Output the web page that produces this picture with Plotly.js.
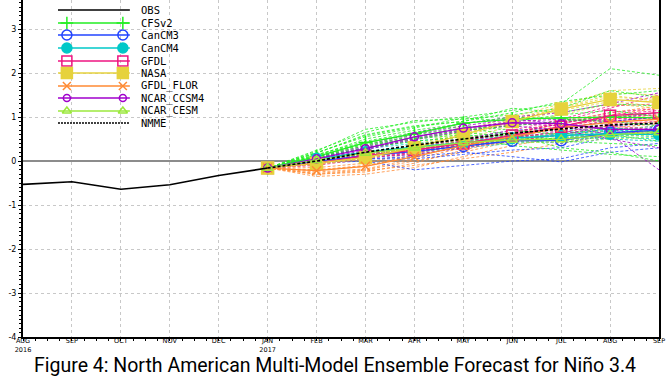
<!DOCTYPE html>
<html>
<head>
<meta charset="utf-8">
<script src="https://cdn.plot.ly/plotly-3.0.1.min.js"></script>
<style>html,body{margin:0;padding:0;background:#fff}#chart{width:671px;height:378px}</style>
</head>
<body>
<div id="chart"></div>
<script>
// ---- DATA ----
const monthKeys = ['2016-08','2016-09','2016-10','2016-11','2016-12','2017-01','2017-02','2017-03','2017-04','2017-05','2017-06','2017-07','2017-08','2017-09'];
const monthLabels = ['AUG<br>2016','SEP','OCT','NOV','DEC','JAN<br>2017','FEB','MAR','APR','MAY','JUN','JUL','AUG','SEP'];
const obsMonths = ['2016-08','2016-09','2016-10','2016-11','2016-12','2017-01'];
const obsValues = [-0.53, -0.47, -0.64, -0.54, -0.33, -0.16];
const fcstMonths = ['2017-01','2017-02','2017-03','2017-04','2017-05','2017-06','2017-07','2017-08','2017-09'];

const modelNames = ['CFSv2','CanCM3','CanCM4','GFDL','NASA','GFDL_FLOR','NCAR_CCSM4','NCAR_CESM'];

const meanCFSv2     = [-0.16, 0.10, 0.42, 0.62, 0.86, 0.95, 0.98, 1.00, 0.98];
const meanCanCM3    = [-0.16, 0.00, 0.12, 0.22, 0.34, 0.46, 0.47, 0.64, 0.70];
const meanCanCM4    = [-0.16, 0.05, 0.20, 0.32, 0.42, 0.52, 0.58, 0.62, 0.60];
const meanGFDL      = [-0.16,-0.05, 0.12, 0.25, 0.40, 0.58, 0.78, 1.03, 1.10];
const meanNASA      = [-0.16,-0.05, 0.08, 0.30, 0.60, 0.90, 1.18, 1.40, 1.33];
const meanGFDL_FLOR = [-0.16,-0.22,-0.12, 0.10, 0.35, 0.55, 0.76, 0.88, 0.95];
const meanNCAR_CCSM4= [-0.16, 0.05, 0.28, 0.55, 0.75, 0.87, 0.85, 0.72, 0.72];
const meanNCAR_CESM = [-0.16, 0.02, 0.18, 0.30, 0.42, 0.48, 0.49, 0.60, 0.65];
const meanNMME      = [-0.16, 0.00, 0.20, 0.36, 0.50, 0.63, 0.73, 0.82, 0.86];

const membersCFSv2 = [
  [-0.16, 0.22, 0.72, 0.88, 1.00, 1.15, 1.30, 2.10, 1.95],
  [-0.16, 0.25, 0.65, 0.92, 0.95, 1.05, 1.20, 1.60, 1.45],
  [-0.16, 0.18, 0.60, 0.80, 0.90, 1.20, 1.10, 1.30, 1.25],
  [-0.16, 0.20, 0.55, 0.75, 0.98, 0.90, 1.05, 1.15, 1.00],
  [-0.16, 0.12, 0.50, 0.70, 0.85, 1.00, 0.95, 0.90, 0.80],
  [-0.16, 0.15, 0.45, 0.65, 0.80, 0.70, 0.60, 0.75, 0.65],
  [-0.16, 0.10, 0.40, 0.55, 0.70, 0.80, 0.90, 1.00, 1.10],
  [-0.16, 0.08, 0.35, 0.50, 0.60, 0.50, 0.45, 0.40, 0.35],
  [-0.16, 0.05, 0.30, 0.45, 0.55, 0.35, 0.25, 0.15, 0.10],
  [-0.16, 0.14, 0.42, 0.60, 0.75, 0.60, 0.30, 0.20, 0.00],
  [-0.16, 0.18, 0.58, 0.78, 0.90, 1.10, 1.35, 1.50, 1.60],
  [-0.16, 0.10, 0.38, 0.52, 0.65, 0.55, 0.50, 0.60, 0.45]
];
const membersCanCM3 = [
  [-0.16,-0.05, 0.00,-0.20,-0.10, 0.00, 0.05, 0.30, 0.40],
  [-0.16, 0.00, 0.05, 0.10, 0.20, 0.10,-0.02, 0.20, 0.30],
  [-0.16, 0.05, 0.15, 0.25, 0.35, 0.45, 0.50, 0.70, 0.80],
  [-0.16, 0.02, 0.20, 0.35, 0.50, 0.70, 0.75, 0.90, 1.00],
  [-0.16,-0.02, 0.10, 0.30, 0.45, 0.60, 0.55, 0.75, 0.70],
  [-0.16, 0.03, 0.08, 0.15, 0.30, 0.50, 0.40, 0.60, 0.75],
  [-0.16,-0.04, 0.12, 0.28, 0.40, 0.55, 0.60, 0.80, 0.85],
  [-0.16, 0.01, 0.05, 0.05, 0.15, 0.25, 0.30, 0.55, 0.80]
];
const membersCanCM4 = [
  [-0.16, 0.08, 0.30, 0.45, 0.55, 0.65, 0.70, 0.75, 0.70],
  [-0.16, 0.05, 0.22, 0.35, 0.45, 0.55, 0.65, 0.70, 0.65],
  [-0.16, 0.10, 0.28, 0.40, 0.50, 0.60, 0.55, 0.50, 0.45],
  [-0.16, 0.02, 0.15, 0.25, 0.35, 0.45, 0.50, 0.60, 0.55],
  [-0.16, 0.06, 0.18, 0.30, 0.40, 0.50, 0.62, 0.68, 0.72],
  [-0.16, 0.03, 0.12, 0.20, 0.30, 0.40, 0.48, 0.55, 0.50],
  [-0.16, 0.07, 0.20, 0.32, 0.42, 0.48, 0.58, 0.62, 0.60],
  [-0.16, 0.04, 0.16, 0.28, 0.38, 0.52, 0.56, 0.58, 0.63]
];
const membersGFDL = [
  [-0.16,-0.10, 0.05, 0.20, 0.35, 0.60, 0.90, 1.20, 1.50],
  [-0.16,-0.05, 0.10, 0.25, 0.45, 0.65, 0.85, 1.10, 1.20],
  [-0.16,-0.02, 0.15, 0.30, 0.40, 0.55, 0.75, 1.00, 1.05],
  [-0.16,-0.08, 0.08, 0.20, 0.35, 0.50, 0.70, 0.95, 1.00],
  [-0.16, 0.00, 0.18, 0.35, 0.50, 0.70, 0.95, 1.25, 1.30],
  [-0.16,-0.06, 0.12, 0.22, 0.38, 0.55, 0.65, 0.85, 0.90],
  [-0.16,-0.04, 0.10, 0.15, 0.30, 0.45, 0.60, 0.80, 0.70],
  [-0.16,-0.03, 0.14, 0.33, 0.47, 0.64, 0.85, 1.05, 1.15]
];
const membersNASA = [
  [-0.16,-0.05, 0.10, 0.35, 0.70, 1.00, 1.30, 1.55, 1.50],
  [-0.16,-0.08, 0.05, 0.28, 0.60, 0.90, 1.20, 1.45, 1.40],
  [-0.16,-0.02, 0.12, 0.32, 0.62, 0.92, 1.22, 1.50, 1.35],
  [-0.16,-0.06, 0.06, 0.25, 0.50, 0.80, 1.05, 1.30, 1.20],
  [-0.16,-0.04, 0.08, 0.30, 0.58, 0.85, 1.15, 1.35, 1.25],
  [-0.16,-0.05, 0.10, 0.32, 0.65, 0.95, 1.25, 1.60, 1.65]
];
const membersGFDL_FLOR = [
  [-0.16,-0.30,-0.25,-0.05, 0.25, 0.50, 0.80, 1.00, 1.10],
  [-0.16,-0.25,-0.18, 0.05, 0.30, 0.55, 0.75, 0.90, 1.00],
  [-0.16,-0.35,-0.30,-0.15, 0.10, 0.35, 0.55, 0.75, 0.85],
  [-0.16,-0.20,-0.10, 0.10, 0.35, 0.60, 0.85, 1.05, 1.20],
  [-0.16,-0.28,-0.20, 0.00, 0.20, 0.45, 0.65, 0.80, 0.90],
  [-0.16,-0.15,-0.05, 0.20, 0.45, 0.65, 0.90, 1.10, 1.25],
  [-0.16,-0.22,-0.12, 0.15, 0.40, 0.60, 0.80, 0.95, 1.05],
  [-0.16,-0.30,-0.22,-0.10, 0.05, 0.20, 0.40, 0.60, 0.70]
];
const membersNCAR_CCSM4 = [
  [-0.16, 0.10, 0.35, 0.65, 0.85, 1.00, 1.10, 1.30, 1.55],
  [-0.16, 0.05, 0.30, 0.55, 0.75, 0.90, 0.95, 0.90, 1.00],
  [-0.16, 0.08, 0.32, 0.60, 0.80, 0.95, 0.85, 0.70, 0.60],
  [-0.16, 0.02, 0.25, 0.50, 0.70, 0.80, 0.70, 0.50, 0.30],
  [-0.16, 0.06, 0.28, 0.52, 0.72, 0.85, 0.80, 0.60,-0.20],
  [-0.16, 0.04, 0.30, 0.48, 0.68, 0.82, 0.90, 0.95, 1.10]
];
const membersNCAR_CESM = [
  [-0.16, 0.05, 0.20, 0.35, 0.50, 0.60, 0.55, 0.70, 0.80],
  [-0.16, 0.00, 0.15, 0.25, 0.35, 0.40, 0.45, 0.55, 0.60],
  [-0.16, 0.03, 0.20, 0.30, 0.45, 0.50, 0.50, 0.60, 0.70],
  [-0.16,-0.02, 0.12, 0.28, 0.40, 0.45, 0.42, 0.50, 0.55],
  [-0.16, 0.04, 0.22, 0.32, 0.42, 0.45, 0.48, 0.62, 0.68],
  [-0.16, 0.01, 0.18, 0.30, 0.38, 0.50, 0.52, 0.65, 0.62]
];

// ---- STYLE ----
const colors = {CFSv2:'#22ee22', CanCM3:'#2244ff', CanCM4:'#00c8c8', GFDL:'#ee1480', NASA:'#e6d23c',
  GFDL_FLOR:'#ff8a33', NCAR_CCSM4:'#a000cc', NCAR_CESM:'#9be83c'};
const symbols = {CFSv2:'cross-thin-open', CanCM3:'circle-open', CanCM4:'circle', GFDL:'square-open', NASA:'square',
  GFDL_FLOR:'x-thin-open', NCAR_CCSM4:'circle-open', NCAR_CESM:'triangle-up-open'};
const sizes = {CFSv2:10, CanCM3:11, CanCM4:11, GFDL:11, NASA:12, GFDL_FLOR:9, NCAR_CCSM4:8, NCAR_CESM:9};
const members = {CFSv2:membersCFSv2, CanCM3:membersCanCM3, CanCM4:membersCanCM4, GFDL:membersGFDL, NASA:membersNASA,
  GFDL_FLOR:membersGFDL_FLOR, NCAR_CCSM4:membersNCAR_CCSM4, NCAR_CESM:membersNCAR_CESM};
const means = {CFSv2:meanCFSv2, CanCM3:meanCanCM3, CanCM4:meanCanCM4, GFDL:meanGFDL, NASA:meanNASA,
  GFDL_FLOR:meanGFDL_FLOR, NCAR_CCSM4:meanNCAR_CCSM4, NCAR_CESM:meanNCAR_CESM};

const idx = k => monthKeys.indexOf(k);
const xObs = obsMonths.map(idx);
const xF = fcstMonths.map(idx);

const traces = [];
const memberOrder = ['GFDL_FLOR','CanCM3','CanCM4','NCAR_CESM','GFDL','NASA','NCAR_CCSM4','CFSv2'];
memberOrder.forEach(name => {
  members[name].forEach(row => {
    traces.push({x:xF, y:row, mode:'lines', line:{color:colors[name], width:0.8, dash:'3px,2px'}, hoverinfo:'skip'});
  });
});
modelNames.forEach(name => {
  traces.push({x:xF, y:means[name], mode:'lines+markers', line:{color:colors[name], width:1.3},
    marker:{symbol:symbols[name], size:sizes[name], color:colors[name], line:{color:colors[name], width:1.5}}});
});
traces.push({x:xF, y:meanNMME, mode:'lines', line:{color:'#000', width:1.6, dash:'3px,2px'}});
traces.push({x:xObs, y:obsValues, mode:'lines', line:{color:'#000', width:1.6}});

// ---- legend (overlay axes) ----
const plotH = 337;
const legendNames = ['OBS'].concat(modelNames).concat(['NMME']);
const legendRowPx = [10, 23, 35, 48, 61, 73, 86, 98, 111, 123];
const annotations = [];
legendNames.forEach((name, i) => {
  const yy = 1 - legendRowPx[i] / plotH;
  let line = {color:'#000', width:1.6};
  if (name === 'NMME') line = {color:'#000', width:1.4, dash:'2px,1px'};
  else if (name !== 'OBS') line = {color:colors[name], width:1.6};
  traces.push({x:[0.055, 0.168], y:[yy, yy], xaxis:'x2', yaxis:'y2', mode:'lines', line:line, hoverinfo:'skip'});
  if (symbols[name]) {
    traces.push({x:[0.069, 0.157], y:[yy, yy], xaxis:'x2', yaxis:'y2', mode:'markers', hoverinfo:'skip',
      marker:{symbol:symbols[name], size:sizes[name]-1, color:colors[name], line:{color:colors[name], width:1.5}}});
  }
  annotations.push({xref:'paper', yref:'paper', x:0.184, y:yy, xanchor:'left', yanchor:'middle', showarrow:false,
    borderpad:0, text:name, font:{family:'DejaVu Sans Mono', size:10.5, color:'#000'}});
});
annotations.push({xref:'paper', yref:'paper', x:0.49, y:-41/337, xanchor:'center', yanchor:'bottom', showarrow:false,
  borderpad:0, text:'Figure 4: North American Multi-Model Ensemble Forecast for Niño 3.4',
  font:{family:'Roboto', size:19.5, color:'#000'}});

const layout = {
  width:671, height:378,
  margin:{l:23, r:12, t:0, b:41},
  paper_bgcolor:'#fff', plot_bgcolor:'#fff',
  showlegend:false,
  xaxis:{range:[0, 13], tickvals:monthKeys.map(idx), ticktext:monthLabels,
    showgrid:true, gridcolor:'#c8c8c8', griddash:'dot', gridwidth:1,
    showline:true, linecolor:'#000', linewidth:1.5, ticks:'outside', ticklen:2, tickcolor:'#000',
    ticklabelstandoff:-5,
    minor:{dtick:0.25, ticks:'outside', ticklen:2, tickcolor:'#000', showgrid:false},
    tickfont:{family:'DejaVu Sans', size:6.5, color:'#000'}, zeroline:false, fixedrange:true},
  yaxis:{range:[-4, 3.66], tickvals:[-4,-3,-2,-1,0,1,2,3], ticktext:['-4','-3','-2','-1','0','1','2','3'],
    showgrid:true, gridcolor:'#c8c8c8', griddash:'dot', gridwidth:1,
    zeroline:true, zerolinecolor:'#8c8c8c', zerolinewidth:1.2,
    showline:true, mirror:true, linecolor:'#000', linewidth:2, ticks:'outside', ticklen:3, tickcolor:'#000',
    minor:{dtick:0.1, ticks:'outside', ticklen:2, tickcolor:'#000', showgrid:false},
    tickfont:{family:'DejaVu Sans', size:8, color:'#000'}, fixedrange:true},
  xaxis2:{overlaying:'x', range:[0,1], visible:false, fixedrange:true},
  yaxis2:{overlaying:'y', range:[0,1], visible:false, fixedrange:true},
  annotations:annotations
};
Plotly.newPlot('chart', traces, layout, {staticPlot:true, displayModeBar:false});
</script>
</body>
</html>
